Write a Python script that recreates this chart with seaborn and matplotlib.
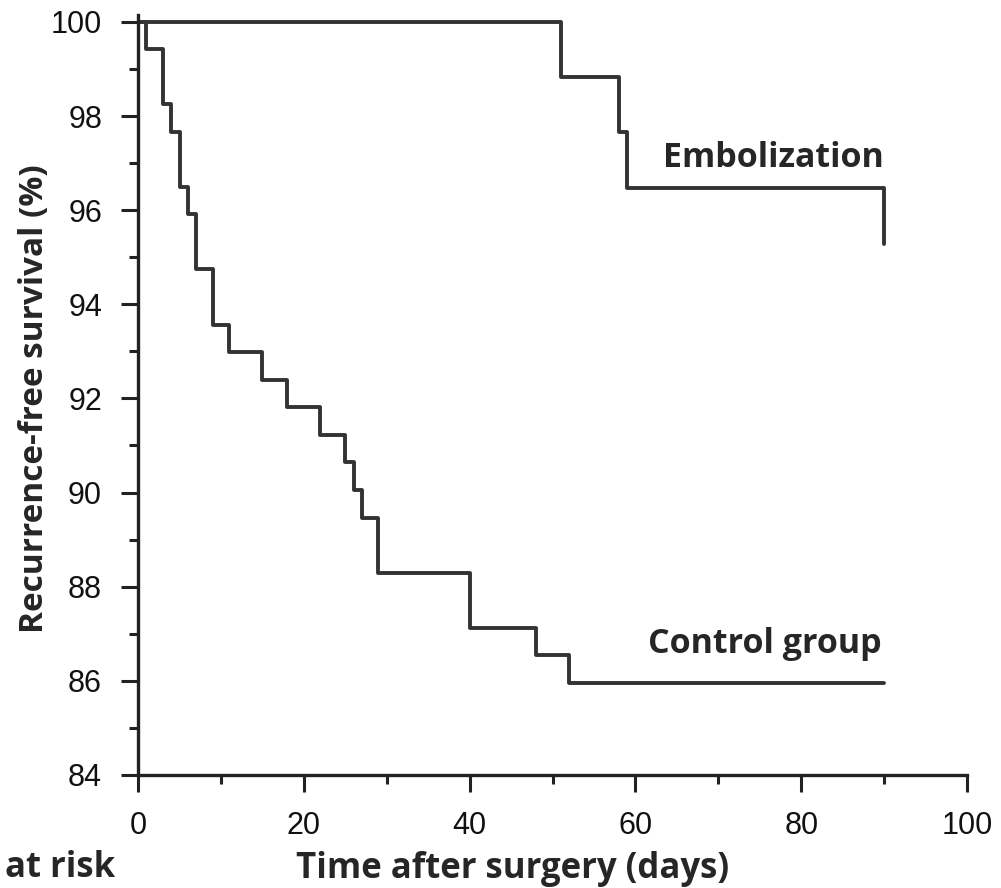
import numpy as np
import pandas as pd
import matplotlib
matplotlib.use("Agg")
import matplotlib.pyplot as plt
import seaborn as sns
from matplotlib.ticker import MultipleLocator

# Kaplan-Meier steps
control_days = [0, 1, 3, 4, 5, 6, 7, 9, 11, 15, 18, 22, 25, 26, 27, 29, 40, 48, 52, 90]
control_surv = [100, 99.42, 98.25, 97.66, 96.49, 95.91, 94.74, 93.57, 92.98, 92.40,
                91.81, 91.23, 90.64, 90.06, 89.47, 88.30, 87.13, 86.55, 85.96, 85.96]
embol_days = [0, 51, 58, 59, 90]
embol_surv = [100, 98.82, 97.65, 96.47, 95.29]

df = pd.concat([
    pd.DataFrame({"days": control_days, "surv": control_surv, "group": "Control group"}),
    pd.DataFrame({"days": embol_days, "surv": embol_surv, "group": "Embolization"}),
])

sns.set_style("ticks")
plt.rcParams['font.family'] = ['Open Sans', 'DejaVu Sans']
tick_font = ['Liberation Sans Narrow', 'Liberation Sans', 'DejaVu Sans']

fig = plt.figure(figsize=(10.01, 8.88), dpi=100)
ax = fig.add_axes([0.138, 0.1273, 0.828, 0.856])

sns.lineplot(data=df, x="days", y="surv", hue="group", units="group", estimator=None,
             sort=False, drawstyle="steps-post", palette=["#333333", "#333333"],
             linewidth=2.8, legend=False, ax=ax)

ax.set_xlim(0, 100)
ax.set_ylim(84, 100.15)
ax.xaxis.set_major_locator(MultipleLocator(20))
ax.xaxis.set_minor_locator(MultipleLocator(10))
ax.set_yticks(np.arange(84, 101, 2))
ax.yaxis.set_minor_locator(MultipleLocator(1))

for s in ["top", "right"]:
    ax.spines[s].set_visible(False)
for s in ["left", "bottom"]:
    ax.spines[s].set_linewidth(2.4)
    ax.spines[s].set_color("#222222")

ax.tick_params(which="major", length=12, width=2.2, color="#222222", labelsize=22,
               pad=14, labelfontfamily=tick_font, labelcolor="#111111")
ax.tick_params(which="minor", length=6.5, width=2.2, color="#222222")

ax.set_xlabel("Time after surgery (days)", fontsize=25, fontweight="bold", va="baseline")
ax.set_ylabel("Recurrence-free survival (%)", fontsize=24, fontweight="bold", va="baseline")
ax.xaxis.set_label_coords(0.452, -0.1355)
ax.yaxis.set_label_coords(-0.1146, 0.495)

ax.text(63.3, 96.92, "Embolization", fontsize=24.5, fontweight="bold", va="baseline", ha="left")
ax.text(61.5, 86.59, "Control group", fontsize=24.5, fontweight="bold", va="baseline", ha="left")
fig.text(0.005, 0.012, "at risk", fontsize=25, fontweight="bold", va="baseline", ha="left")

fig.savefig("out.png", dpi=100)
